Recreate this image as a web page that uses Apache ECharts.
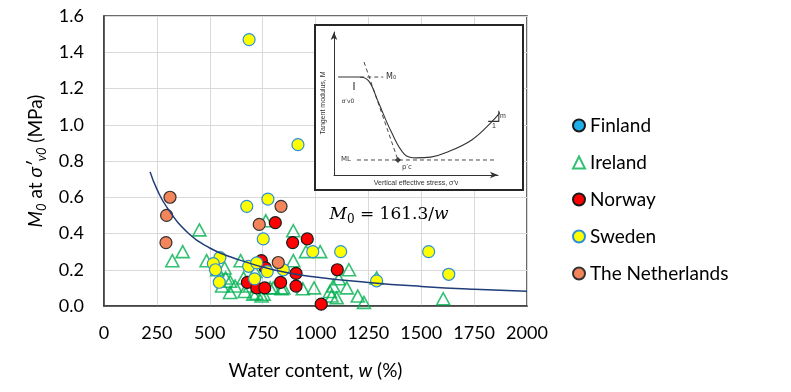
<!DOCTYPE html>
<html>
<head>
<meta charset="utf-8">
<script src="https://cdn.jsdelivr.net/npm/echarts@6/dist/echarts.min.js"></script>
<style>
  html, body { margin: 0; padding: 0; background: #fff; }
  #chart { width: 791px; height: 392px; }
</style>
</head>
<body>
<div id="chart"></div>
<script>
// water content w (%) and M0 (MPa)
const finland = [];
const ireland = [
  [323, 0.25], [372, 0.30], [451, 0.42], [485, 0.25], [535, 0.20], [570, 0.21],
  [575, 0.155], [596, 0.136], [558, 0.11], [596, 0.075], [620, 0.11], [646, 0.25],
  [660, 0.155], [665, 0.08], [690, 0.11], [706, 0.065], [715, 0.19], [745, 0.055],
  [755, 0.065], [765, 0.47], [785, 0.10], [840, 0.095], [848, 0.10], [895, 0.415],
  [895, 0.25], [940, 0.095], [955, 0.30], [993, 0.10], [1022, 0.30], [1068, 0.08],
  [1076, 0.055], [1084, 0.11], [1100, 0.045], [1110, 0.15], [1148, 0.10], [1158, 0.20],
  [1200, 0.055], [1229, 0.02], [1289, 0.155], [1604, 0.04], [720, 0.07], [800, 0.10]
];
const norway = [
  [810, 0.46], [892, 0.35], [961, 0.37], [1103, 0.20], [908, 0.18], [908, 0.11],
  [835, 0.13], [1027, 0.01], [744, 0.25], [763, 0.21], [678, 0.13], [722, 0.10], [760, 0.10]
];
const sweden = [
  [686, 1.47], [917, 0.89], [675, 0.55], [775, 0.59], [753, 0.37], [548, 0.267],
  [517, 0.234], [527, 0.20], [545, 0.131], [684, 0.219], [722, 0.238], [772, 0.19],
  [712, 0.15], [848, 0.20], [987, 0.30], [1119, 0.30], [1289, 0.139], [1535, 0.30], [1630, 0.175]
];
const netherlands = [
  [312, 0.60], [296, 0.50], [293, 0.35], [734, 0.45], [837, 0.55], [824, 0.24]
];
// fitted curve M0 = 161.3/w, read at a few water contents
const fitW  = [218, 250, 300, 400, 500, 600, 800, 1000, 1250, 1500, 1750, 2000];
const fitM0 = [0.74, 0.645, 0.54, 0.40, 0.32, 0.27, 0.20, 0.16, 0.13, 0.108, 0.092, 0.081];

// inset sketch (arbitrary units 0-10)
const insetStress  = [0.25, 1.5, 2.1, 2.7, 3.5, 4.3, 5.0, 5.9, 6.8, 8.4, 9.6, 10.5];
const insetModulus = [6.85, 6.85, 6.6, 5.1, 3.0, 1.45, 1.2, 1.25, 1.55, 2.45, 3.7, 4.9];
const insetTangent = [[1.83, 7.9], [3.9, 1.05]];
const insetM0Line  = [[1.6, 6.85], [3.0, 6.85]];
const insetMLLine  = [[1.4, 1.05], [9.8, 1.05]];
const insetSv0Tick = [[1.22, 6.5], [1.22, 5.94]];
const insetSlope   = [[9.4, 3.75], [10.05, 3.75], [10.05, 4.5]];
const insetPc      = [[3.9, 1.05]];

const font = 'Lato';
const chart = echarts.init(document.getElementById('chart'));

function circleSeries(name, data, fill, border) {
  return {
    name: name, type: 'scatter', data: data,
    symbol: 'circle', symbolSize: 12,
    itemStyle: { color: fill, borderColor: border, borderWidth: 1.2, opacity: 1 },
    xAxisIndex: 0, yAxisIndex: 0, z: 3
  };
}
function sketchLine(data, dashed) {
  return {
    type: 'line', data: data, xAxisIndex: 1, yAxisIndex: 1,
    symbol: 'none', silent: true, clip: false, z: 6,
    lineStyle: { color: '#333', width: dashed ? 0.9 : 1.1, type: dashed ? [4, 3] : 'solid' }
  };
}
const insetAxis = {
  type: 'value', min: 0, max: 10, gridIndex: 1, z: 6,
  axisLine: { show: true, symbol: ['none', 'arrow'], symbolSize: [5, 8], lineStyle: { color: '#333', width: 1 } },
  axisTick: { show: false }, axisLabel: { show: false }, splitLine: { show: false }
};

chart.setOption({
  animation: false,
  backgroundColor: '#fff',
  grid: [
    { left: 104, top: 16, right: 264, bottom: 86, show: true, borderColor: '#3a3a3a', borderWidth: 1.5, z: 0 },
    { left: 334, top: 32, width: 164, height: 143, z: 5 }
  ],
  legend: {
    orient: 'vertical', left: 567, top: 111, itemGap: 18,
    itemWidth: 12, itemHeight: 12,
    data: ['Finland', 'Ireland', 'Norway', 'Sweden', 'The Netherlands'],
    textStyle: { fontFamily: font, fontSize: 19, color: '#000' }
  },
  xAxis: [{
    type: 'value', min: 0, max: 2000, interval: 250, gridIndex: 0,
    name: 'Water content, {i|w} (%)', nameLocation: 'middle', nameGap: 55,
    nameTextStyle: { fontFamily: font, fontSize: 19, color: '#000',
      rich: { i: { fontFamily: font, fontSize: 19, fontStyle: 'italic', color: '#000' } } },
    axisLine: { show: true, lineStyle: { color: '#3a3a3a', width: 1.5 } },
    axisTick: { show: false },
    axisLabel: { fontFamily: font, fontSize: 18, color: '#000', margin: 18, formatter: v => String(v) },
    splitLine: { lineStyle: { color: '#d9d9d9', width: 1 } }
  }, insetAxis],
  yAxis: [{
    type: 'value', min: 0, max: 1.6, interval: 0.2, gridIndex: 0,
    name: '{i|M}{s|0} at {i|σ′}{s|v0} (MPa)', nameLocation: 'middle', nameGap: 55, nameRotate: 90,
    nameTextStyle: { fontFamily: font, fontSize: 19, color: '#000', lineHeight: 24,
      rich: {
        i: { fontFamily: font, fontSize: 19, fontStyle: 'italic', color: '#000', lineHeight: 24 },
        s: { fontFamily: font, fontSize: 13, fontStyle: 'italic', color: '#000', verticalAlign: 'bottom', lineHeight: 24 }
      } },
    axisLine: { show: true, lineStyle: { color: '#3a3a3a', width: 1.5 } },
    axisTick: { show: false },
    axisLabel: { fontFamily: font, fontSize: 18, color: '#000', margin: 20, formatter: v => v.toFixed(1) },
    splitLine: { lineStyle: { color: '#d9d9d9', width: 1 } }
  }, insetAxis],
  graphic: [
    { type: 'rect', z: 4, shape: { x: 315, y: 25, width: 208, height: 165 },
      style: { fill: '#fff', stroke: '#262626', lineWidth: 2 } },
    { type: 'text', z: 10, x: 323, y: 103, rotation: Math.PI / 2,
      style: { text: 'Tangent modulus, M', font: '7px "Liberation Sans"', fill: '#333', align: 'center', verticalAlign: 'middle' } },
    { type: 'text', z: 10, x: 416, y: 183,
      style: { text: 'Vertical effective stress, σ′v', font: '7px "Liberation Sans"', fill: '#333', align: 'center', verticalAlign: 'middle' } },
    { type: 'text', z: 10, x: 386, y: 77,
      style: { text: 'M₀', font: '8px "DejaVu Sans"', fill: '#333', align: 'left', verticalAlign: 'middle' } },
    { type: 'text', z: 10, x: 348, y: 101,
      style: { text: 'σ′v0', font: '6px "DejaVu Sans"', fill: '#333', align: 'center', verticalAlign: 'middle' } },
    { type: 'text', z: 10, x: 346, y: 159,
      style: { text: 'ML', font: '7px "DejaVu Sans"', fill: '#333', align: 'center', verticalAlign: 'middle' } },
    { type: 'text', z: 10, x: 407, y: 167,
      style: { text: 'p′c', font: '7px "DejaVu Sans"', fill: '#333', align: 'center', verticalAlign: 'middle' } },
    { type: 'text', z: 10, x: 503, y: 116,
      style: { text: 'm', font: '7px "Liberation Sans"', fill: '#333', align: 'center', verticalAlign: 'middle' } },
    { type: 'text', z: 10, x: 494, y: 126,
      style: { text: '1', font: '7px "Liberation Sans"', fill: '#333', align: 'center', verticalAlign: 'middle' } },
    { type: 'text', z: 10, x: 389, y: 215,
      style: {
        text: '{i|M}{s|0} = 161.3/{i|w}', align: 'center', verticalAlign: 'middle',
        font: '17px "DejaVu Serif"', fill: '#000',
        rich: {
          i: { font: 'italic 17px "DejaVu Serif"', fill: '#000', lineHeight: 22 },
          s: { font: '12px "DejaVu Serif"', fill: '#000', verticalAlign: 'bottom', lineHeight: 22 }
        }
      } }
  ],
  series: [
    circleSeries('Finland', finland, '#1fb0e8', '#1a1a1a'),
    {
      name: 'Ireland', type: 'scatter', data: ireland,
      symbol: 'triangle', symbolSize: [13, 12],
      itemStyle: { color: 'rgba(255,255,255,0)', borderColor: '#00b050', borderWidth: 1.6 },
      xAxisIndex: 0, yAxisIndex: 0, z: 2
    },
    circleSeries('Norway', norway, '#ff0000', '#1a1a1a'),
    circleSeries('Sweden', sweden, '#ffff00', '#2e8fd6'),
    circleSeries('The Netherlands', netherlands, '#f4845a', '#333333'),
    {
      type: 'line', data: fitW.map((w, i) => [w, fitM0[i]]),
      smooth: true, symbol: 'none', silent: true,
      lineStyle: { color: '#1f3d78', width: 1.5 },
      xAxisIndex: 0, yAxisIndex: 0, z: 4
    },
    Object.assign(sketchLine(insetStress.map((s, i) => [s, insetModulus[i]]), false), { smooth: 0.4 }),
    sketchLine(insetTangent, true),
    sketchLine(insetM0Line, true),
    sketchLine(insetMLLine, true),
    sketchLine(insetSv0Tick, false),
    sketchLine(insetSlope, false),
    {
      type: 'scatter', data: insetPc, xAxisIndex: 1, yAxisIndex: 1,
      symbol: 'diamond', symbolSize: 6, silent: true, z: 7,
      itemStyle: { color: '#111' }
    }
  ]
});
</script>
</body>
</html>
